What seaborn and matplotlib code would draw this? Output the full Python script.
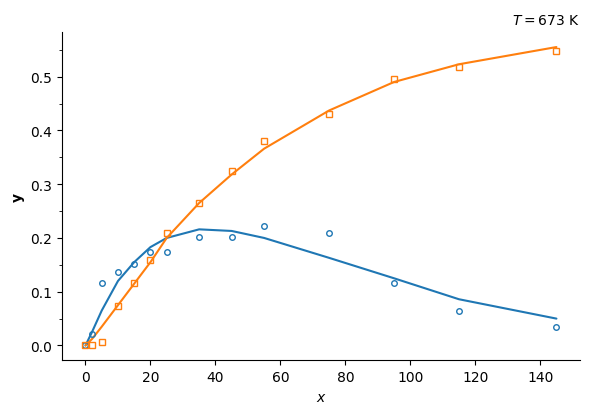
import numpy as np
import pandas as pd
import seaborn as sns
from matplotlib import pyplot as plt
from matplotlib.ticker import MultipleLocator

# measured points
x_obs = [0, 2, 5, 10, 15, 20, 25, 35, 45, 55, 75, 95, 115, 145]
y1_obs = [0.0, 0.022, 0.116, 0.136, 0.151, 0.173, 0.173, 0.201, 0.201, 0.222, 0.209, 0.116, 0.065, 0.035]
y2_obs = [0.0, 0.0, 0.007, 0.073, 0.116, 0.159, 0.209, 0.265, 0.325, 0.381, 0.431, 0.496, 0.517, 0.547]

# model curves
x_fit = [0, 2, 5, 10, 15, 20, 25, 35, 45, 55, 75, 95, 115, 145]
y1_fit = [0.0, 0.025, 0.065, 0.12, 0.155, 0.183, 0.2, 0.216, 0.213, 0.2, 0.163, 0.125, 0.086, 0.05]
y2_fit = [0.0, 0.012, 0.035, 0.075, 0.115, 0.155, 0.2, 0.265, 0.318, 0.366, 0.437, 0.49, 0.523, 0.555]

sns.set_style("ticks", {"axes.edgecolor": "black", "text.color": "black",
                        "axes.labelcolor": "black", "xtick.color": "black",
                        "ytick.color": "black"})
fig = plt.figure(figsize=(5.9, 4.14), dpi=100)
ax = fig.add_axes([0.105, 0.127, 0.878, 0.793])

c1, c2 = "#1f77b4", "#ff7f0e"
sns.lineplot(x=x_fit, y=y1_fit, color=c1, lw=1.5, ax=ax)
sns.lineplot(x=x_fit, y=y2_fit, color=c2, lw=1.5, ax=ax)
ax.plot(x_obs, y1_obs, 'o', ms=4, mfc='none', mec=c1, mew=1)
ax.plot(x_obs, y2_obs, 's', ms=5, mfc='none', mec=c2, mew=1)

ax.set_xticks(np.arange(0, 141, 20))
ax.yaxis.set_minor_locator(MultipleLocator(0.05))
ax.set_xlabel("$x$")
ax.set_ylabel("y", fontweight="bold")
ax.set_title("$T = 673$ K", loc="right", fontsize=10)
sns.despine(ax=ax)

fig.savefig("out.png", dpi=100)
